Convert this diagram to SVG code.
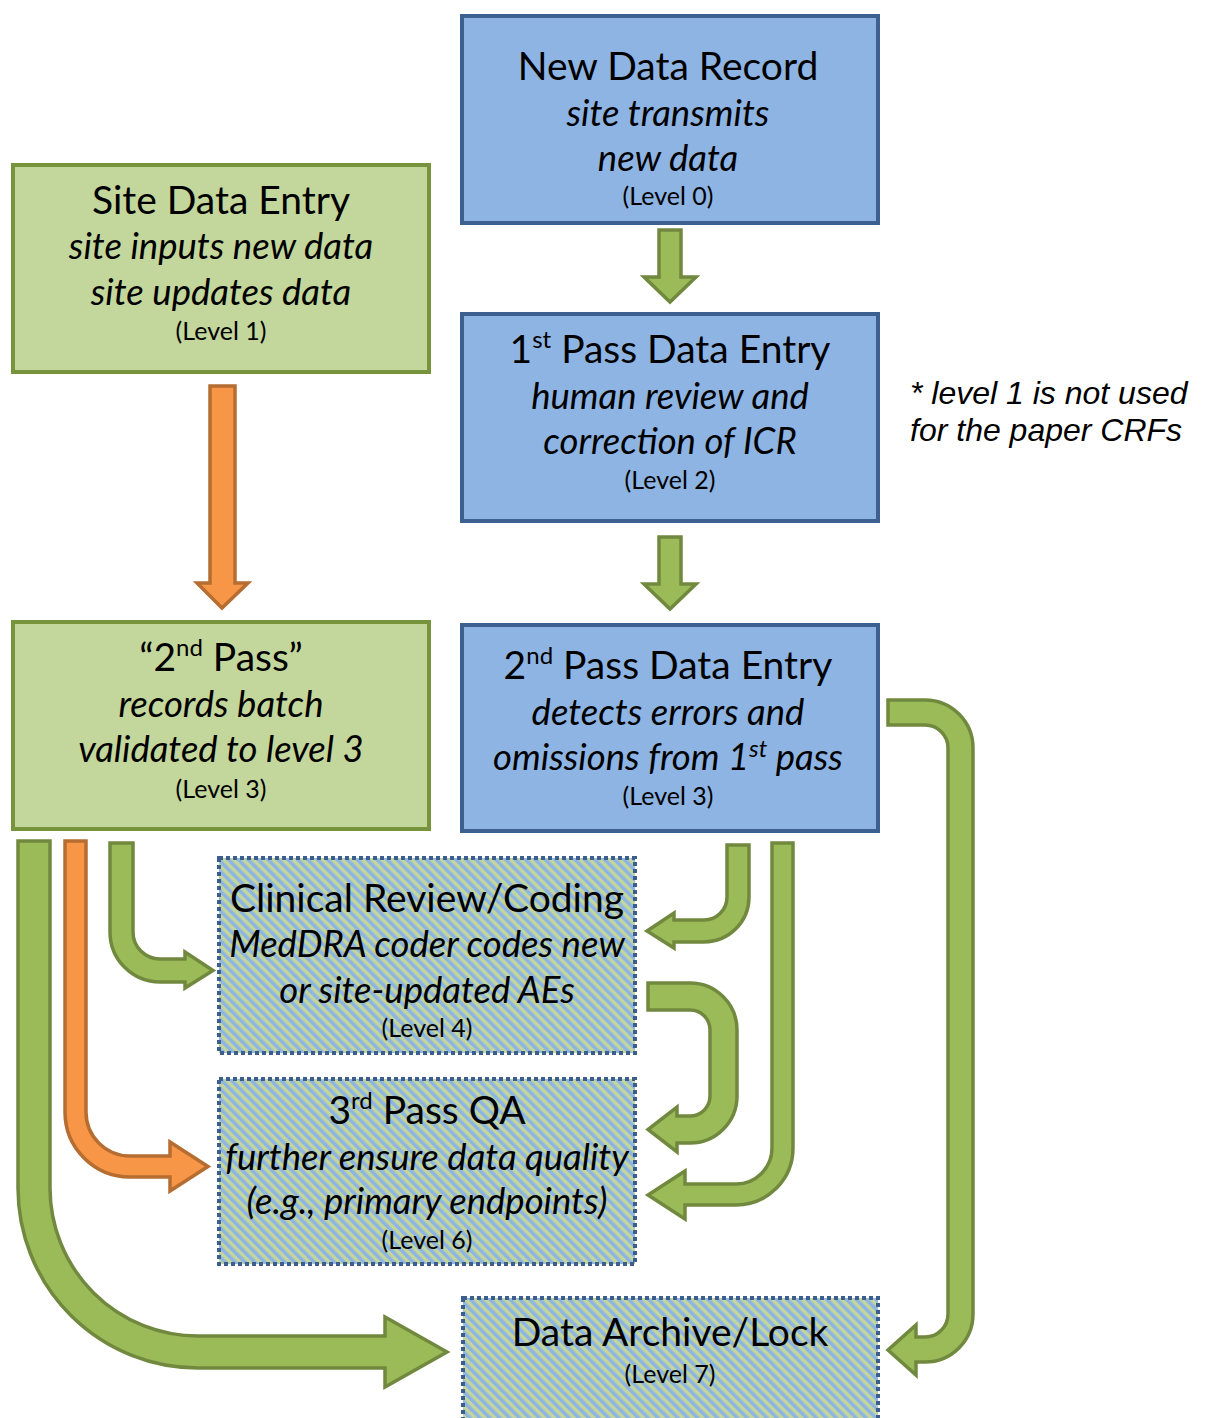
<svg xmlns="http://www.w3.org/2000/svg" width="1205" height="1418" viewBox="0 0 1205 1418">
  <defs>
    <pattern id="hatch" patternUnits="userSpaceOnUse" width="7" height="7" patternTransform="rotate(-45)">
      <rect x="0" y="0" width="7" height="7" fill="#C3D69B"/>
      <rect x="0" y="0" width="3.5" height="7" fill="#8EB4E3"/>
    </pattern>
  </defs>
  <style>
    .blue { fill: #8EB4E3; stroke: #3C6190; stroke-width: 4; }
    .green { fill: #C3D69B; stroke: #77933C; stroke-width: 4; }
    .hatched { fill: url(#hatch); stroke: #3B5E8E; stroke-width: 4; stroke-dasharray: 4 3; }
    .ga { fill: #9BBB59; stroke: #71893F; stroke-width: 3.5; stroke-linejoin: miter; }
    .oa { fill: #F79646; stroke: #B66D31; stroke-width: 3.5; stroke-linejoin: miter; }
    text { font-family: Lato, "Open Sans", "DejaVu Sans", sans-serif; fill: #000; text-anchor: middle; }
    .t { font-size: 39px; }
    .i { font-size: 36.5px; font-style: italic; }
    .l { font-size: 25px; }
    .sup { font-size: 24px; }
    .note { font-family: "Liberation Sans", Arial, sans-serif; font-size: 32px; font-style: italic; text-anchor: start; }
  </style>

  <!-- block arrows between the stages -->
  <g id="connectors">
    <path class="ga" d="M659,230 H681 V277 H696 L670,302 L644,277 H659 Z"/>
    <path class="ga" d="M659,537 H681 V584 H696 L670,609 L644,584 H659 Z"/>
    <path class="oa" d="M210,386 H235 V583 H248 L222,608 L197,583 H210 Z"/>
    <path class="ga" d="M18,841 H50 V1188 A148,148 0 0 0 198,1336 H385 V1317 L447,1352 L385,1387 V1368 H198 A180,180 0 0 1 18,1188 Z"/>
    <path class="oa" d="M65,841 H86 V1112 A44,44 0 0 0 130,1156 H170 V1142 L208,1166.5 L170,1191 V1177 H130 A65,65 0 0 1 65,1112 Z"/>
    <path class="ga" d="M110,843 H133 V932 A27,27 0 0 0 160,959 H185 V952 L213,970.5 L185,988 V982 H160 A50,50 0 0 1 110,932 Z"/>
    <path class="ga" d="M727,845 H749 V897 A45,45 0 0 1 704,942 H674 V948 L647,931 L674,913 V920 H704 A23,23 0 0 0 727,897 Z"/>
    <path class="ga" d="M648,983 H690 A47,47 0 0 1 737,1030 V1096 A47,47 0 0 1 690,1143 H677 V1152 L648,1129.5 L677,1107 V1116 H690 A20,20 0 0 0 710,1096 V1030 A20,20 0 0 0 690,1010 H648 Z"/>
    <path class="ga" d="M772,843 H793 V1148 A57,57 0 0 1 736,1205 H685 V1219 L648,1195 L685,1171 V1184 H736 A36,36 0 0 0 772,1148 Z"/>
    <path class="ga" d="M888,700 H925 A48,48 0 0 1 973,748 V1314 A48,48 0 0 1 925,1362 H916 V1375 L888,1350 L916,1325 V1337 H925 A23,23 0 0 0 948,1314 V748 A23,23 0 0 0 925,725 H888 Z"/>
  </g>

  <g id="new-data-record">
    <rect class="blue" x="462" y="16" width="416" height="207"/>
    <text class="t" x="668" y="80">New Data Record</text>
    <text class="i" x="668" y="126">site transmits</text>
    <text class="i" x="668" y="171">new data</text>
    <text class="l" x="668" y="205">(Level 0)</text>
  </g>

  <g id="site-data-entry">
    <rect class="green" x="13" y="165" width="416" height="207"/>
    <text class="t" x="221" y="214">Site Data Entry</text>
    <text class="i" x="221" y="259">site inputs new data</text>
    <text class="i" x="221" y="305">site updates data</text>
    <text class="l" x="221" y="340">(Level 1)</text>
  </g>

  <g id="first-pass">
    <rect class="blue" x="462" y="314" width="416" height="207"/>
    <text class="t" x="670" y="363">1<tspan class="sup" dy="-15">st</tspan><tspan dy="15"> Pass Data Entry</tspan></text>
    <text class="i" x="670" y="409">human review and</text>
    <text class="i" x="670" y="454">correction of ICR</text>
    <text class="l" x="670" y="489">(Level 2)</text>
  </g>

  <g id="note">
    <text class="note" x="910" y="404">* level 1 is not used</text>
    <text class="note" x="910" y="441">for the paper CRFs</text>
  </g>

  <g id="second-pass-batch">
    <rect class="green" x="13" y="622" width="416" height="207"/>
    <text class="t" x="221" y="671">“2<tspan class="sup" dy="-15">nd</tspan><tspan dy="15"> Pass”</tspan></text>
    <text class="i" x="221" y="717">records batch</text>
    <text class="i" x="221" y="762">validated to level 3</text>
    <text class="l" x="221" y="798">(Level 3)</text>
  </g>

  <g id="second-pass-entry">
    <rect class="blue" x="462" y="625" width="416" height="206"/>
    <text class="t" x="668" y="679">2<tspan class="sup" dy="-15">nd</tspan><tspan dy="15"> Pass Data Entry</tspan></text>
    <text class="i" x="668" y="725">detects errors and</text>
    <text class="i" x="668" y="770">omissions from 1<tspan class="sup" dy="-13">st</tspan><tspan dy="13"> pass</tspan></text>
    <text class="l" x="668" y="805">(Level 3)</text>
  </g>

  <g id="clinical-review">
    <rect class="hatched" x="219" y="858" width="416" height="195"/>
    <text class="t" x="427" y="912">Clinical Review/Coding</text>
    <text class="i" x="427" y="957">MedDRA coder codes new</text>
    <text class="i" x="427" y="1003">or site-updated AEs</text>
    <text class="l" x="427" y="1037">(Level 4)</text>
  </g>

  <g id="third-pass">
    <rect class="hatched" x="219" y="1079" width="416" height="185"/>
    <text class="t" x="427" y="1124">3<tspan class="sup" dy="-15">rd</tspan><tspan dy="15"> Pass QA</tspan></text>
    <text class="i" x="427" y="1170">further ensure data quality</text>
    <text class="i" x="427" y="1214">(e.g., primary endpoints)</text>
    <text class="l" x="427" y="1249">(Level 6)</text>
  </g>

  <g id="data-archive">
    <rect class="hatched" x="463" y="1298" width="415" height="140"/>
    <text class="t" x="670" y="1346">Data Archive/Lock</text>
    <text class="l" x="670" y="1383">(Level 7)</text>
  </g>
</svg>
